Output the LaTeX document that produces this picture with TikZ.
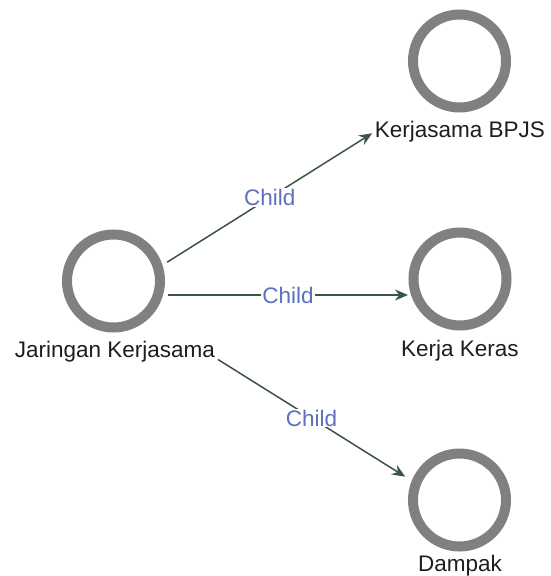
\documentclass[tikz,border=0pt]{standalone}
\usepackage{fontspec}
\setmainfont{Liberation Sans}
\usetikzlibrary{arrows.meta,calc}
\definecolor{ringgray}{RGB}{128,128,128}
\definecolor{edgecol}{RGB}{58,84,74}
\definecolor{lblblue}{RGB}{92,112,190}
\definecolor{txtcol}{RGB}{30,30,30}
\tikzset{
  ring/.style={circle,draw=ringgray,line width=10pt,minimum size=93pt,inner sep=0pt},
  nlabel/.style={anchor=base,inner sep=0pt,text=txtcol,font=\fontsize{22.5}{27}\selectfont},
  hub/.style={inner sep=0pt,minimum size=0pt},
  conn/.style={draw=edgecol,line width=1.5pt,-{Stealth[length=13pt,width=11pt]}},
  elabel/.style={fill=white,inner sep=1pt,text=lblblue,font=\fontsize{22.5}{27}\selectfont}
}
\begin{document}
\begin{tikzpicture}[x=1pt,y=-1pt]
\useasboundingbox[fill=white] (0,0) rectangle (550,576);
% nodes
\node[ring] (jr) at (113.5,281) {};
\node[nlabel] (jl) at (115,357) {Jaringan Kerjasama};
\node[ring] (br) at (459.5,61) {};
\node[nlabel] (bl) at (460,137) {Kerjasama BPJS};
\node[ring] (kr) at (460,279) {};
\node[nlabel] (kl) at (460,356.5) {Kerja Keras};
\node[ring] (dr) at (459.5,500) {};
\node[nlabel] (dl) at (460,571.5) {Dampak};
% hubs (centres of circle + label)
\node[hub] (jc) at (115,295) {};
\node[hub] (bc) at (460,78) {};
\node[hub] (kc) at (460,295) {};
\node[hub] (dc) at (460,511) {};
% connectors
\draw[conn] ($(jc)!61.6pt!(bc)$) -- ($(bc)!103.8pt!(jc)$) node[midway,elabel] {Child};
\draw[conn] ($(jc)!53pt!(kc)$) -- ($(kc)!52pt!(jc)$) node[midway,elabel] {Child};
\draw[conn] ($(jc)!121.5pt!(dc)$) -- ($(dc)!64.7pt!(jc)$) node[midway,elabel] {Child};
\end{tikzpicture}
\end{document}
